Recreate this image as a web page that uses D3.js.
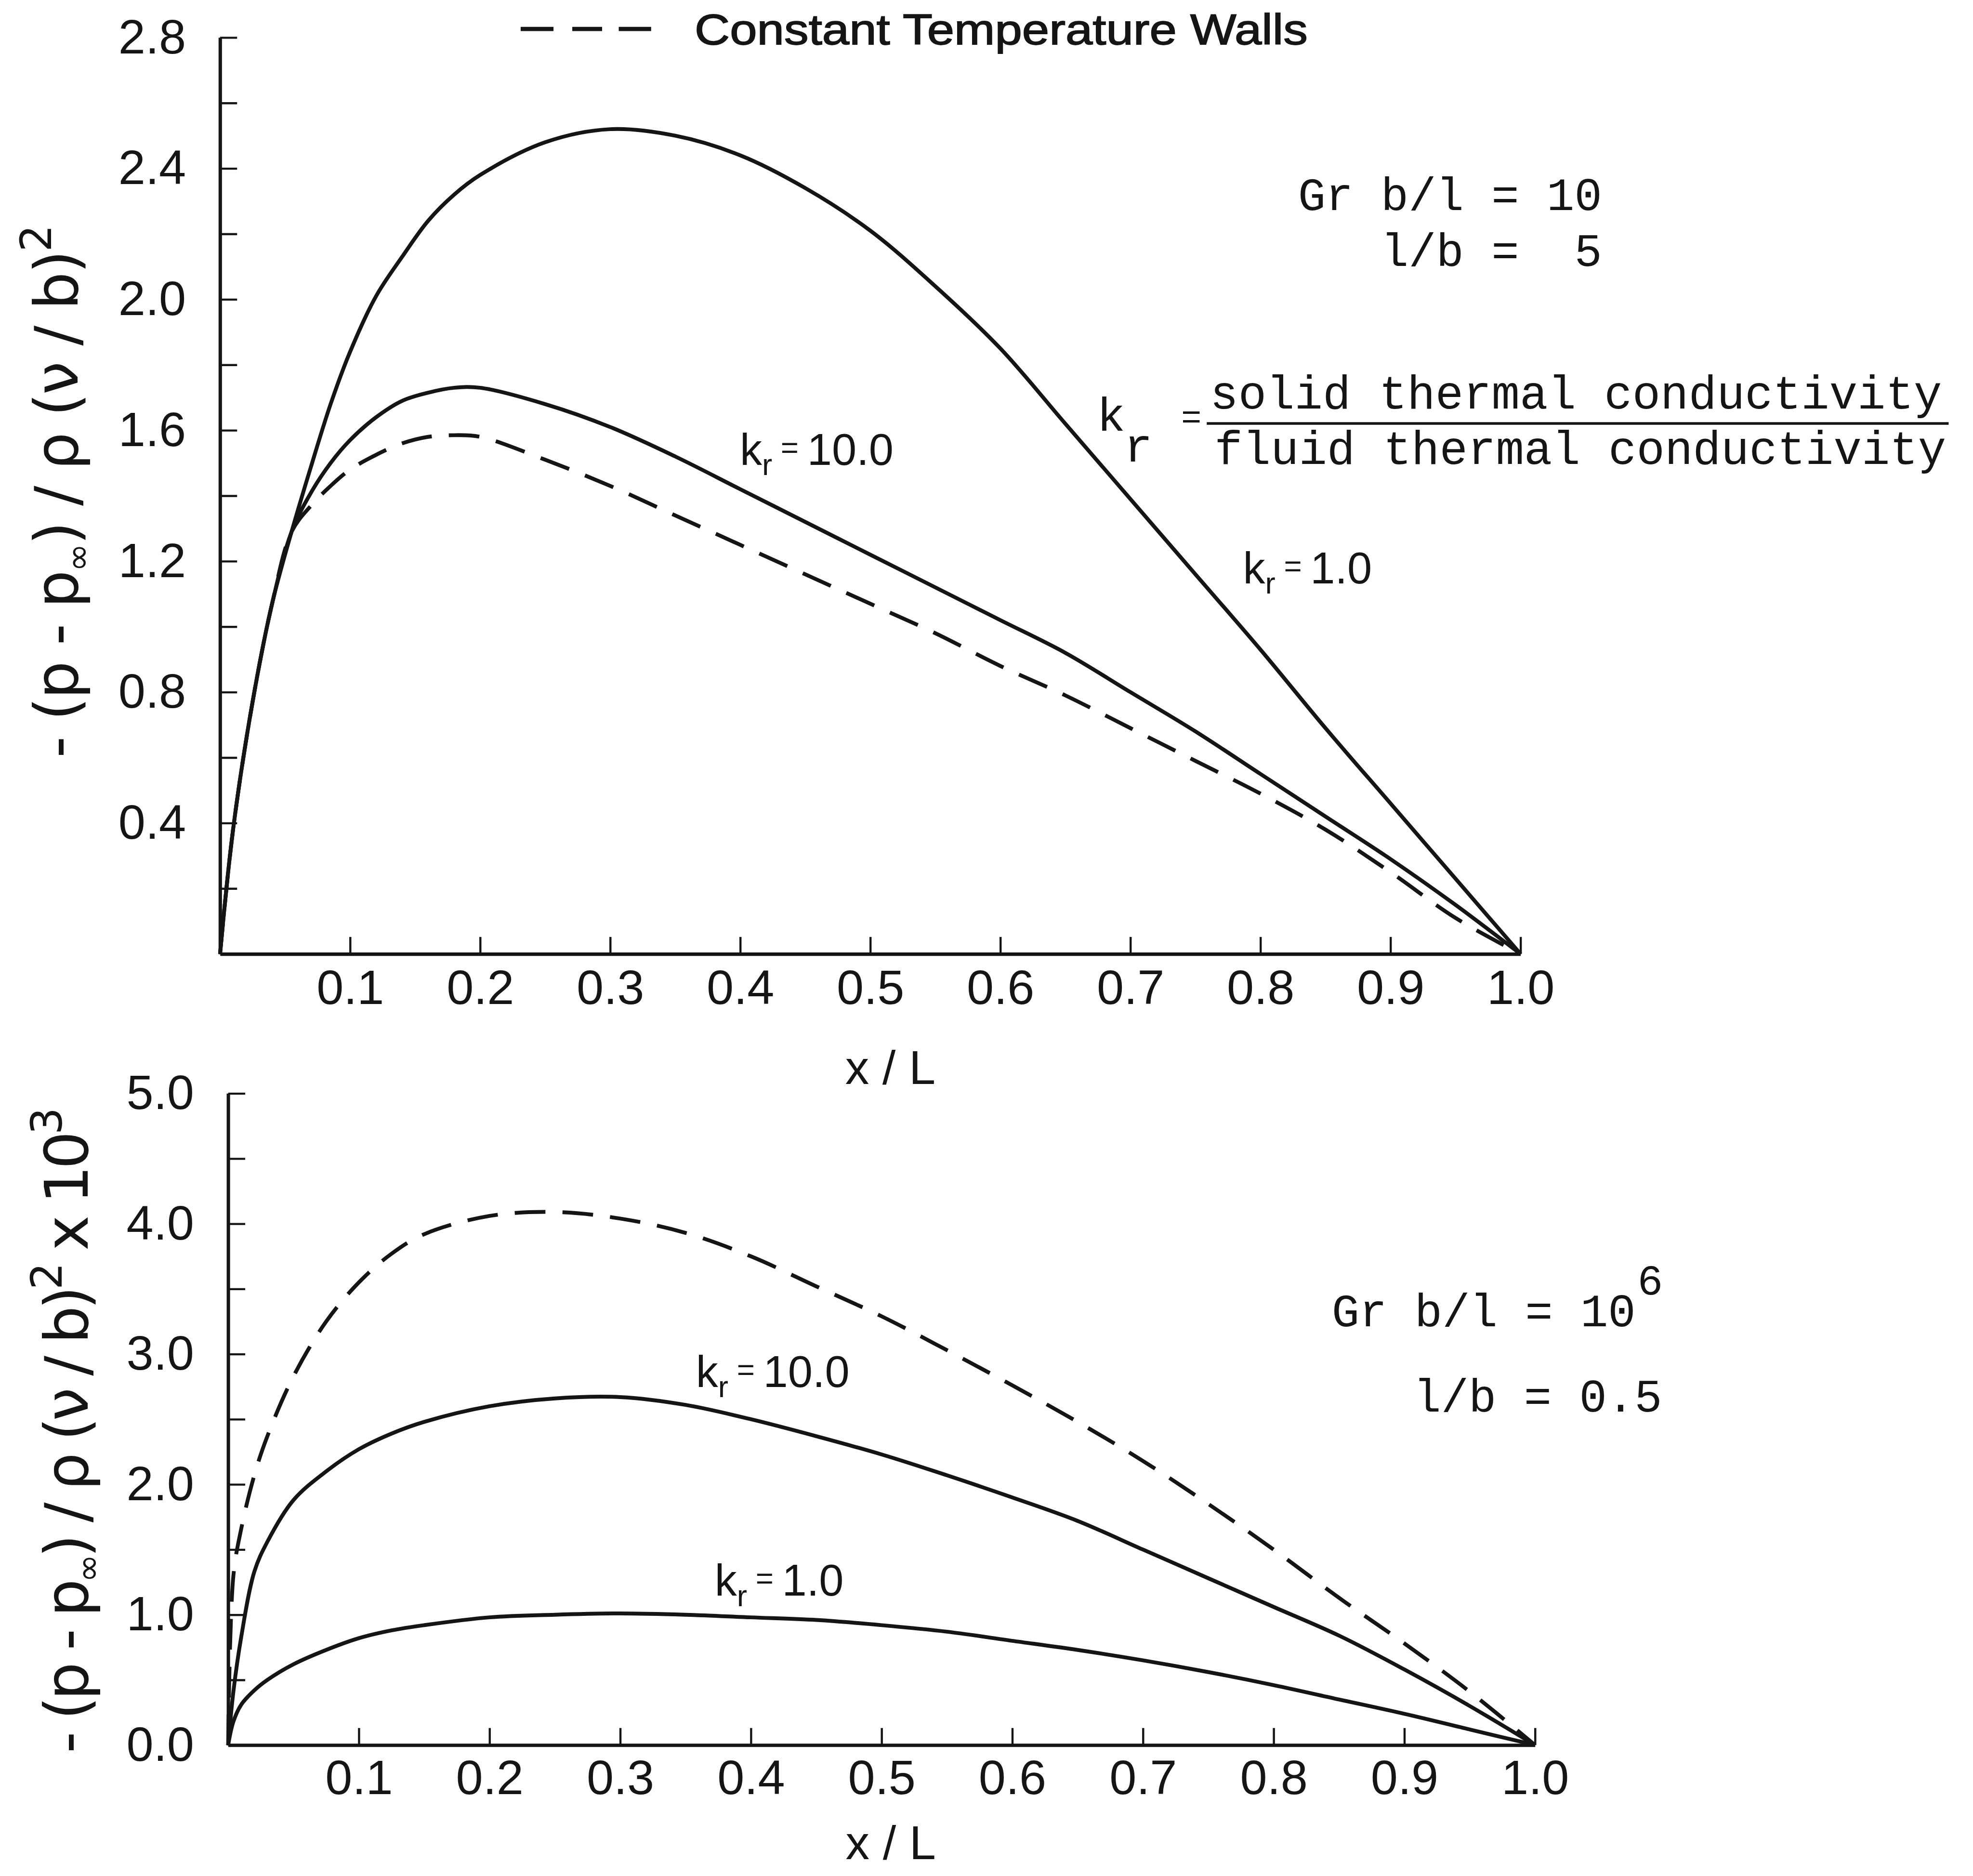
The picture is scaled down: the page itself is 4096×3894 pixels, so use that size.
<!DOCTYPE html>
<html><head><meta charset="utf-8">
<script src="https://cdn.jsdelivr.net/npm/d3@7"></script>
<style>html,body{margin:0;padding:0;background:#fff;} svg{display:block;}</style>
</head><body>
<script>
// ---------- DATA ----------
// Upper panel: Gr b/l = 10, l/b = 5
const topX      = [0, 0.01, 0.025, 0.04, 0.055, 0.07, 0.085, 0.1, 0.12, 0.14, 0.16, 0.18, 0.2, 0.25, 0.3, 0.35, 0.4, 0.45, 0.5, 0.55, 0.6, 0.65, 0.7, 0.75, 0.8, 0.85, 0.9, 0.95, 1.0];
const topKr1    = [0, 0.38, 0.77, 1.07, 1.29, 1.49, 1.68, 1.84, 2.01, 2.13, 2.24, 2.32, 2.38, 2.48, 2.52, 2.50, 2.44, 2.34, 2.21, 2.04, 1.85, 1.62, 1.39, 1.16, 0.93, 0.69, 0.46, 0.23, 0];
const topKr10   = [0, 0.38, 0.77, 1.07, 1.29, 1.41, 1.50, 1.57, 1.64, 1.69, 1.715, 1.73, 1.73, 1.68, 1.61, 1.52, 1.42, 1.32, 1.22, 1.12, 1.02, 0.92, 0.80, 0.68, 0.55, 0.42, 0.29, 0.15, 0];
const topConst  = [0, 0.38, 0.77, 1.07, 1.29, 1.37, 1.43, 1.48, 1.525, 1.56, 1.58, 1.585, 1.58, 1.51, 1.43, 1.34, 1.25, 1.16, 1.07, 0.98, 0.88, 0.79, 0.69, 0.59, 0.49, 0.38, 0.25, 0.11, 0];
// Lower panel: Gr b/l = 10^6, l/b = 0.5 (values x 10^-3)
const botX      = [0, 0.004, 0.01, 0.02, 0.03, 0.05, 0.075, 0.1, 0.125, 0.15, 0.2, 0.25, 0.3, 0.35, 0.4, 0.45, 0.5, 0.55, 0.6, 0.65, 0.7, 0.75, 0.8, 0.85, 0.9, 0.95, 1.0];
const botKr1    = [0, 0.18, 0.31, 0.42, 0.50, 0.62, 0.73, 0.82, 0.88, 0.92, 0.98, 1.00, 1.01, 1.00, 0.98, 0.96, 0.92, 0.87, 0.80, 0.73, 0.65, 0.56, 0.46, 0.35, 0.24, 0.12, 0];
const botKr10   = [0, 0.41, 0.83, 1.33, 1.56, 1.88, 2.10, 2.27, 2.39, 2.48, 2.60, 2.66, 2.67, 2.61, 2.50, 2.37, 2.23, 2.07, 1.90, 1.72, 1.50, 1.28, 1.06, 0.84, 0.58, 0.30, 0];
const botConst  = [0, 1.30, 1.66, 2.07, 2.37, 2.83, 3.25, 3.55, 3.77, 3.92, 4.06, 4.09, 4.04, 3.93, 3.75, 3.52, 3.29, 3.03, 2.76, 2.48, 2.18, 1.85, 1.50, 1.13, 0.78, 0.41, 0];
// Ticks and tick labels
const xTicks        = [0.1, 0.2, 0.3, 0.4, 0.5, 0.6, 0.7, 0.8, 0.9, 1.0];
const xTickLabels   = ["0.1", "0.2", "0.3", "0.4", "0.5", "0.6", "0.7", "0.8", "0.9", "1.0"];
const topYTicks     = [0.2, 0.4, 0.6, 0.8, 1.0, 1.2, 1.4, 1.6, 1.8, 2.0, 2.2, 2.4, 2.6, 2.8];
const topYTickLabels= ["0.4", "0.8", "1.2", "1.6", "2.0", "2.4", "2.8"];
const botYTicks     = [0, 0.5, 1.0, 1.5, 2.0, 2.5, 3.0, 3.5, 4.0, 4.5, 5.0];
const botYTickLabels= ["0.0", "1.0", "2.0", "3.0", "4.0", "5.0"];
const legendDashes  = [[1221, 1298], [1342, 1412], [1451, 1527]];

// ---------- DRAWING ----------
const W = 4627, H = 4399;
const INK = "#151515";
const SANS = "'Liberation Sans', Arial, sans-serif";
const MONO = "'Liberation Mono', 'DejaVu Sans Mono', monospace";

const svg = d3.select("body").append("svg")
  .attr("width", 4096).attr("height", 3894)
  .attr("viewBox", `0 0 ${W} ${H}`);
svg.append("rect").attr("width", W).attr("height", H).attr("fill", "#fff");

function zip(xs, ys) { return xs.map((x, i) => [x, ys[i]]); }

function panel(cfg) {
  const x = d3.scaleLinear().domain([0, 1]).range([cfg.x0, cfg.x1]);
  const y = d3.scaleLinear().domain(cfg.yDomain).range([cfg.y0, cfg.y1]);
  const g = svg.append("g");

  const yAxis = d3.axisLeft(y).tickValues(cfg.yTicks)
    .tickFormat(d => { const s = d.toFixed(1); return cfg.yLabels.includes(s) ? s : ""; })
    .tickSizeInner(-40).tickSizeOuter(0).tickPadding(80);
  const ya = g.append("g").attr("transform", `translate(${cfg.x0},0)`).call(yAxis);

  const xAxis = d3.axisBottom(x).tickValues(xTicks)
    .tickFormat((d, i) => xTickLabels[i])
    .tickSizeInner(-40).tickSizeOuter(0).tickPadding(cfg.xPad);
  const xa = g.append("g").attr("transform", `translate(0,${cfg.y0})`).call(xAxis);

  [ya, xa].forEach(a => {
    a.select(".domain").attr("stroke", INK).attr("stroke-width", 8);
    a.selectAll(".tick line").attr("stroke", INK).attr("stroke-width", 5);
    a.selectAll(".tick text").attr("font-family", SANS).attr("font-size", 114).attr("fill", INK);
  });

  const line = d3.line().x(d => x(d[0])).y(d => y(d[1])).curve(d3.curveCatmullRom.alpha(0.5));
  cfg.series.forEach(s => {
    g.append("path").datum(zip(cfg.xs, s.values))
      .attr("d", line).attr("fill", "none").attr("stroke", INK)
      .attr("stroke-width", 9).attr("stroke-linejoin", "round")
      .attr("stroke-dasharray", s.dashed ? "72,40" : null);
  });
  return { x, y };
}

panel({ x0: 516, x1: 3566, y0: 2237, y1: 88, yDomain: [0, 2.8], xPad: 36,
  yTicks: topYTicks, yLabels: topYTickLabels, xs: topX,
  series: [{ values: topKr1 }, { values: topKr10 }, { values: topConst, dashed: true }] });

panel({ x0: 535, x1: 3600, y0: 4092, y1: 2564, yDomain: [0, 5], xPad: 34,
  yTicks: botYTicks, yLabels: botYTickLabels, xs: botX,
  series: [{ values: botKr1 }, { values: botKr10 }, { values: botConst, dashed: true }] });

// x axis titles
[[2088, 2542], [2089, 4360]].forEach(p => {
  svg.append("text").attr("x", p[0]).attr("y", p[1]).attr("text-anchor", "middle")
    .attr("font-family", SANS).attr("font-size", 112).attr("fill", INK).text("x / L");
});

// y axis titles (rotated)
function yTitle(bx, cy, len, extra) {
  const t = svg.append("text").attr("transform", `translate(${bx},${cy}) rotate(-90)`)
    .attr("text-anchor", "middle").attr("font-family", "'DejaVu Sans', sans-serif")
    .attr("font-size", 140).attr("fill", INK)
    .attr("textLength", len).attr("lengthAdjust", "spacing");
  t.append("tspan").text("- (p - p");
  t.append("tspan").attr("font-size", 80).attr("dy", 28).text("∞");
  t.append("tspan").attr("dy", -28).text(") / ρ (ν / b)");
  t.append("tspan").attr("font-size", 100).attr("dy", -62).text("2");
  if (extra) {
    t.append("tspan").attr("dy", 62).text(" x 10");
    t.append("tspan").attr("font-size", 100).attr("dy", -62).text("3");
  }
}
yTitle(182, 1152, 1250, false);
yTitle(206, 3354, 1514, true);

// legend at top
svg.selectAll("line.leg").data(legendDashes).enter().append("line").attr("class", "leg")
  .attr("x1", d => d[0]).attr("x2", d => d[1]).attr("y1", 68).attr("y2", 68)
  .attr("stroke", INK).attr("stroke-width", 10);
svg.append("text").attr("x", 1629).attr("y", 104).attr("font-family", SANS)
  .attr("font-size", 100).attr("fill", INK).attr("textLength", 1438).attr("lengthAdjust", "spacingAndGlyphs")
  .attr("stroke", INK).attr("stroke-width", 2)
  .text("Constant Temperature Walls");

// curve labels  k_r = ...
function krLabel(x, y, val) {
  const t = svg.append("text").attr("x", x).attr("y", y).attr("font-family", SANS)
    .attr("font-size", 104).attr("fill", INK);
  t.append("tspan").text("k");
  t.append("tspan").attr("font-size", 72).attr("dy", 24).text("r");
  t.append("tspan").attr("font-size", 72).attr("dy", -40).text(" = ");
  t.append("tspan").attr("dy", 16).text(val);
}
krLabel(1735, 1090, "10.0");
krLabel(2915, 1368, "1.0");
krLabel(1632, 3252, "10.0");
krLabel(1676, 3742, "1.0");

// parameter annotations (typewriter)
function mono(x, y, str, anchor, size) {
  return svg.append("text").attr("x", x).attr("y", y).attr("text-anchor", anchor || "start")
    .attr("font-family", MONO).attr("font-size", size || 108).attr("fill", INK)
    .attr("xml:space", "preserve").style("white-space", "pre").text(str);
}
mono(3757, 493, "Gr b/l = 10", "end");
mono(3757, 624, "l/b =  5", "end");

mono(3836, 3110, "Gr b/l = 10", "end");
mono(3840, 3035, "6", "start", 100);
mono(3898, 3310, "l/b = 0.5", "end");

// k_r definition
mono(2572, 1010, "k", "start", 112);
mono(2636, 1082, "r", "start", 112);
mono(2770, 1004, "=", "start", 80);
mono(2838, 958, "solid thermal conductivity", "start", 110);
svg.append("line").attr("x1", 2830).attr("x2", 4570).attr("y1", 993).attr("y2", 993)
  .attr("stroke", INK).attr("stroke-width", 6);
mono(2848, 1088, "fluid thermal conductivity", "start", 110);
</script>
</body></html>
